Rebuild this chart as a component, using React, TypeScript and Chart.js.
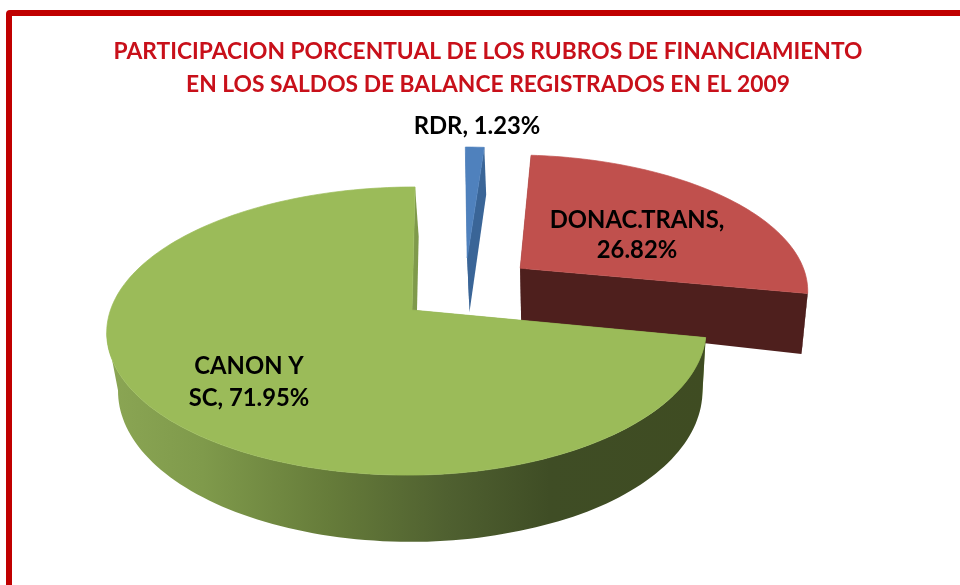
import React, { useEffect, useRef } from "react";
import { Chart, registerables } from "chart.js";

Chart.register(...registerables);

const categories = ["RDR", "DONAC.TRANS", "CANON Y SC"];
const values = [1.23, 26.82, 71.95];
const labelLines = [["RDR, 1.23%"], ["DONAC.TRANS,", "26.82%"], ["CANON Y", "SC, 71.95%"]];
const titleLines = [
  "PARTICIPACION PORCENTUAL DE LOS RUBROS DE FINANCIAMIENTO",
  "EN LOS SALDOS DE BALANCE REGISTRADOS EN EL 2009",
];
const topColors = ["#4f81bd", "#c0504d", "#9bbb59"];

// scene layout (perspective projection of the pie plane)
const CX = 412, CY = 310, RY = 141, P = 0.146, DEPTH = 57;
const VP_X = 560, BOTTOM_SCALE = 0.975, DEPTH_TILT = 0.00028, TILT_FROM = 520;
const FRONT_COS = -0.14;
const skew = [40, 40, 24];
const radiusRight = [295, 296, 291.5];
const radiusLeft = [301, 301, 301.5];
const explode = [[0.19, -0.39], [0.376, -0.31], [0, 0]];
const labelPos = [[477, 126], [637, 220], [249, 366]];
const labelLead = [0, 30, 32];
const FONT = "Lato";

type Pt = [number, number, number];
const project = (i: number, X: number, Y: number): Pt => {
  const w = 1 / (1 - P * Y);
  const u = X < 0 ? X * radiusLeft[i] : X * radiusRight[i];
  return [CX + (u - skew[i]) * w + skew[i], CY + RY * Y * w, w];
};
const lower = (p: Pt): [number, number] => [
  VP_X + (p[0] - VP_X) * BOTTOM_SCALE,
  p[1] + DEPTH * p[2] * (1 + Math.max(0, p[0] - TILT_FROM) * DEPTH_TILT),
];

const wallFill = (ctx: CanvasRenderingContext2D, i: number) => {
  if (i === 1) return "#4e1f1d";
  if (i === 0) {
    const g = ctx.createLinearGradient(0, 215, 0, 310);
    g.addColorStop(0, "#3a6597");
    g.addColorStop(1, "#4a7ab4");
    return g;
  }
  const g = ctx.createLinearGradient(107, 0, 705, 0);
  g.addColorStop(0, "#8ba654");
  g.addColorStop(0.16, "#7f9a4b");
  g.addColorStop(0.37, "#667c3a");
  g.addColorStop(0.57, "#4f6030");
  g.addColorStop(0.74, "#3f4d25");
  g.addColorStop(1, "#3f4c22");
  return g;
};
const radialFill = ["#3a6597", "#4e1f1d", "#7f9a4b"];

const piePlugin = {
  id: "perspectivePie",
  beforeDatasetsDraw(chart: any) {
    const ctx: CanvasRenderingContext2D = chart.ctx;
    const arcs = chart.getDatasetMeta(0).data;
    arcs.forEach((arc: any, i: number) => {
      const a0 = arc.startAngle + Math.PI / 2;
      const a1 = arc.endAngle + Math.PI / 2;
      const [ox, oy] = explode[i];
      const apex = project(i, ox, oy);
      const rim: Pt[] = [];
      const front: Pt[] = [];
      const n = Math.max(3, Math.ceil(((a1 - a0) * 180) / Math.PI / 1.5));
      for (let k = 0; k <= n; k++) {
        const t = a0 + ((a1 - a0) * k) / n;
        const p = project(i, ox + Math.sin(t), oy - Math.cos(t));
        rim.push(p);
        if (Math.cos(t) < FRONT_COS) front.push(p);
      }
      // radial side walls
      ctx.fillStyle = radialFill[i];
      [rim[0], rim[rim.length - 1]].forEach((e) => {
        const el = lower(e);
        const al = lower(apex);
        ctx.beginPath();
        ctx.moveTo(apex[0], apex[1]);
        ctx.lineTo(e[0], e[1]);
        ctx.lineTo(el[0], el[1]);
        ctx.lineTo(al[0], al[1]);
        ctx.closePath();
        ctx.fill();
      });
      // visible outer wall as a single band
      if (front.length > 1) {
        ctx.fillStyle = wallFill(ctx, i);
        ctx.beginPath();
        front.forEach((p, k) => (k ? ctx.lineTo(p[0], p[1]) : ctx.moveTo(p[0], p[1])));
        for (let k = front.length - 1; k >= 0; k--) {
          const l = lower(front[k]);
          ctx.lineTo(l[0], l[1]);
        }
        ctx.closePath();
        ctx.fill();
      }
      // top face
      ctx.beginPath();
      ctx.moveTo(apex[0], apex[1]);
      rim.forEach((p) => ctx.lineTo(p[0], p[1]));
      ctx.closePath();
      ctx.fillStyle = topColors[i];
      ctx.strokeStyle = topColors[i];
      ctx.lineWidth = 0.7;
      ctx.fill();
      ctx.stroke();
    });
    ctx.save();
    ctx.fillStyle = "#000000";
    ctx.font = `bold 23.8px ${FONT}, sans-serif`;
    ctx.textAlign = "center";
    ctx.textBaseline = "middle";
    labelLines.forEach((lines, i) => {
      lines.forEach((line, j) => {
        ctx.fillText(line, labelPos[i][0], labelPos[i][1] + j * labelLead[i]);
      });
    });
    ctx.restore();
    return false;
  },
};

export default function App() {
  const ref = useRef<HTMLCanvasElement | null>(null);
  useEffect(() => {
    if (!ref.current) return;
    const chart = new Chart(ref.current, {
      type: "pie",
      data: {
        labels: categories,
        datasets: [{ data: values, backgroundColor: topColors, borderWidth: 0 }],
      },
      options: {
        animation: false,
        responsive: false,
        maintainAspectRatio: false,
        layout: { padding: { left: 16 } },
        plugins: {
          legend: { display: false },
          tooltip: { enabled: false },
          title: {
            display: true,
            text: titleLines,
            color: "#c8101a",
            font: { family: `${FONT}, sans-serif`, size: 22.8, weight: "bold", lineHeight: 1.45 },
            padding: { top: 35, bottom: 0 },
          },
        },
      },
      plugins: [piePlugin],
    } as any);
    return () => chart.destroy();
  }, []);
  return (
    <div
      style={{
        position: "fixed",
        left: 0,
        top: 0,
        width: 960,
        height: 585,
        overflow: "hidden",
        background: "#fff",
        filter: "blur(0.4px)",
      }}
    >
      <div
        style={{
          position: "absolute",
          left: 6,
          top: 10,
          width: 1100,
          height: 800,
          border: "6px solid #c00000",
          borderRadius: 4,
          boxSizing: "border-box",
        }}
      />
      <canvas ref={ref} width={960} height={585} style={{ position: "absolute", left: 0, top: 0, display: "block" }} />
    </div>
  );
}
